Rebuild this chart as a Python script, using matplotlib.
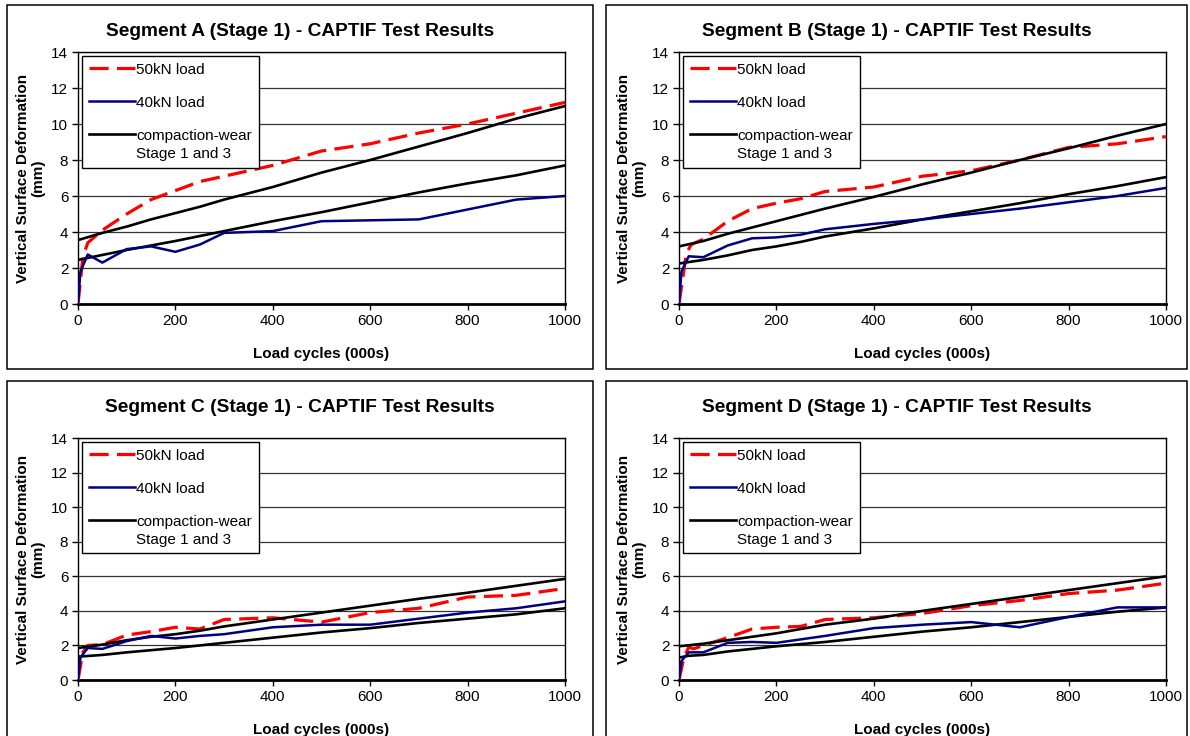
import matplotlib.pyplot as plt
from matplotlib.patches import Rectangle
from matplotlib.legend_handler import HandlerLine2D

plt.rcParams['font.family'] = ['Liberation Sans', 'DejaVu Sans']

# ---- data ----
seg_names = ['A', 'B', 'C', 'D']

# Segment A
a_50_x = [0, 10, 20, 50, 100, 150, 200, 250, 300, 400, 500, 600, 700, 800, 900, 1000]
a_50_y = [0, 2.6, 3.4, 4.1, 5.0, 5.8, 6.3, 6.8, 7.1, 7.7, 8.5, 8.9, 9.5, 10.0, 10.6, 11.2]
a_40_x = [0, 5, 20, 50, 100, 150, 200, 250, 300, 400, 500, 600, 700, 800, 900, 1000]
a_40_y = [0, 1.8, 2.75, 2.3, 3.05, 3.2, 2.9, 3.3, 3.95, 4.05, 4.6, 4.65, 4.7, 5.25, 5.8, 6.0]
a_cw1_x = [0, 50, 100, 150, 200, 250, 300, 400, 500, 600, 700, 800, 900, 1000]
a_cw1_y = [3.55, 3.95, 4.3, 4.7, 5.05, 5.4, 5.8, 6.5, 7.3, 8.0, 8.75, 9.5, 10.3, 11.0]
a_cw3_x = [0, 100, 200, 300, 400, 500, 600, 700, 800, 900, 1000]
a_cw3_y = [2.45, 3.0, 3.5, 4.05, 4.6, 5.1, 5.65, 6.2, 6.7, 7.15, 7.7]

# Segment B
b_50_x = [0, 15, 25, 50, 100, 150, 200, 250, 300, 400, 500, 600, 700, 800, 900, 1000]
b_50_y = [0, 2.8, 3.3, 3.6, 4.6, 5.3, 5.6, 5.85, 6.25, 6.5, 7.1, 7.4, 8.0, 8.7, 8.9, 9.3]
b_40_x = [0, 5, 20, 50, 100, 150, 200, 250, 300, 400, 500, 600, 700, 800, 900, 1000]
b_40_y = [0, 1.8, 2.65, 2.6, 3.25, 3.65, 3.7, 3.85, 4.15, 4.45, 4.7, 5.0, 5.3, 5.65, 6.0, 6.45]
b_cw1_x = [0, 50, 100, 150, 200, 250, 300, 400, 500, 600, 700, 800, 900, 1000]
b_cw1_y = [3.2, 3.5, 3.9, 4.25, 4.6, 4.95, 5.3, 5.95, 6.65, 7.3, 8.0, 8.65, 9.35, 10.0]
b_cw3_x = [0, 50, 100, 150, 200, 250, 300, 400, 500, 600, 700, 800, 900, 1000]
b_cw3_y = [2.25, 2.45, 2.7, 3.0, 3.2, 3.45, 3.75, 4.2, 4.7, 5.15, 5.6, 6.1, 6.55, 7.05]

# Segment C
c_50_x = [0, 10, 20, 50, 100, 150, 200, 250, 300, 400, 500, 600, 700, 800, 900, 1000]
c_50_y = [0, 1.6, 2.0, 2.05, 2.6, 2.8, 3.05, 2.95, 3.5, 3.6, 3.35, 3.9, 4.15, 4.8, 4.9, 5.3]
c_40_x = [0, 5, 20, 50, 100, 150, 200, 250, 300, 400, 500, 600, 700, 800, 900, 1000]
c_40_y = [0, 1.3, 1.85, 1.8, 2.25, 2.55, 2.4, 2.55, 2.65, 3.05, 3.2, 3.2, 3.55, 3.9, 4.15, 4.55]
c_cw1_x = [0, 50, 100, 150, 200, 250, 300, 400, 500, 600, 700, 800, 900, 1000]
c_cw1_y = [1.85, 2.05, 2.3, 2.5, 2.65, 2.85, 3.1, 3.5, 3.9, 4.3, 4.7, 5.05, 5.45, 5.85]
c_cw3_x = [0, 50, 100, 200, 250, 300, 400, 500, 600, 700, 800, 900, 1000]
c_cw3_y = [1.35, 1.45, 1.6, 1.85, 2.0, 2.15, 2.45, 2.75, 3.0, 3.3, 3.55, 3.8, 4.15]

# Segment D
d_50_x = [0, 10, 20, 30, 50, 100, 150, 200, 250, 300, 400, 500, 600, 700, 800, 900, 1000]
d_50_y = [0, 1.3, 1.9, 1.8, 2.0, 2.45, 2.95, 3.05, 3.1, 3.5, 3.6, 3.85, 4.3, 4.6, 5.0, 5.2, 5.6]
d_40_x = [0, 5, 20, 50, 100, 150, 200, 250, 300, 400, 500, 600, 650, 700, 800, 900, 1000]
d_40_y = [0, 1.1, 1.6, 1.6, 2.15, 2.2, 2.15, 2.35, 2.55, 3.0, 3.2, 3.35, 3.2, 3.05, 3.65, 4.2, 4.2]
d_cw1_x = [0, 50, 100, 150, 200, 250, 300, 400, 500, 600, 700, 800, 900, 1000]
d_cw1_y = [1.95, 2.1, 2.3, 2.5, 2.7, 2.95, 3.2, 3.55, 4.0, 4.4, 4.8, 5.2, 5.6, 6.0]
d_cw3_x = [0, 20, 50, 100, 200, 300, 400, 500, 600, 700, 800, 900, 1000]
d_cw3_y = [1.3, 1.4, 1.45, 1.65, 1.95, 2.2, 2.5, 2.8, 3.05, 3.35, 3.65, 3.95, 4.2]

series = {
    'A': (a_50_x, a_50_y, a_40_x, a_40_y, a_cw1_x, a_cw1_y, a_cw3_x, a_cw3_y),
    'B': (b_50_x, b_50_y, b_40_x, b_40_y, b_cw1_x, b_cw1_y, b_cw3_x, b_cw3_y),
    'C': (c_50_x, c_50_y, c_40_x, c_40_y, c_cw1_x, c_cw1_y, c_cw3_x, c_cw3_y),
    'D': (d_50_x, d_50_y, d_40_x, d_40_y, d_cw1_x, d_cw1_y, d_cw3_x, d_cw3_y),
}

x_ticks = [0, 200, 400, 600, 800, 1000]
y_ticks = [0, 2, 4, 6, 8, 10, 12, 14]
legend_labels = ['50kN load', '40kN load', 'compaction-wear\nStage 1 and 3']

W, H = 1190, 736
fig = plt.figure(figsize=(W / 100, H / 100), dpi=100)

# panel layout in pixels: (frame x0, frame y0, frame x1, frame y1, axes left, axes top, axes right, axes bottom)
layout = {
    'A': (7, 5, 593, 369, 78, 52, 565, 304),
    'B': (606, 5, 1187, 369, 679, 52, 1166, 304),
    'C': (7, 381, 593, 760, 78, 438, 565, 680),
    'D': (606, 381, 1187, 760, 679, 438, 1166, 680),
}


class TopLineHandler(HandlerLine2D):
    # Excel puts the legend line next to the first line of a wrapped label
    def create_artists(self, legend, orig_handle, xdescent, ydescent,
                       width, height, fontsize, trans):
        arts = super().create_artists(legend, orig_handle, xdescent, ydescent,
                                      width, height, fontsize, trans)
        for a in arts:
            yd = a.get_ydata()
            a.set_ydata([(height - ydescent) / 2 + 0.7 * fontsize] * len(yd))
        return arts


def px_rect(l, t, r, b):
    return [l / W, 1 - b / H, (r - l) / W, (b - t) / H]


for name in seg_names:
    fx0, fy0, fx1, fy1, al, at, ar, ab = layout[name]
    # outer chart frame
    fig.patches.append(Rectangle((fx0 / W, 1 - fy1 / H), (fx1 - fx0) / W, (fy1 - fy0) / H,
                                 transform=fig.transFigure, fill=False,
                                 edgecolor='black', linewidth=1.1))
    ax = fig.add_axes(px_rect(al, at, ar, ab))
    x50, y50, x40, y40, xc1, yc1, xc3, yc3 = series[name]

    for g in y_ticks[1:]:
        ax.axhline(g, color='#333333', linewidth=0.9, zorder=1)

    ax.plot(x50, y50, color='#ff0000', linestyle=(0, (6, 2.6)), linewidth=2.3, label=legend_labels[0], zorder=3)
    ax.plot(x40, y40, color='#000080', linewidth=1.8, label=legend_labels[1], zorder=4)
    cw, = ax.plot(xc1, yc1, color='black', linewidth=1.9, label=legend_labels[2], zorder=3)
    ax.plot(xc3, yc3, color='black', linewidth=1.9, zorder=3)

    ax.set_xlim(0, 1000)
    ax.set_ylim(0, 14)
    ax.set_xticks(x_ticks)
    ax.set_yticks(y_ticks)
    ax.tick_params(direction='out', length=4, width=1, labelsize=11, pad=3)
    for s in ['top', 'right', 'left']:
        ax.spines[s].set_linewidth(1.0)
    ax.spines['bottom'].set_linewidth(2.0)

    # chart title is centred on the whole frame, as in Excel
    fig.text((fx0 + fx1) / 2 / W, 1 - (fy0 + 27) / H,
             'Segment %s (Stage 1) - CAPTIF Test Results' % name,
             fontsize=13.8, fontweight='bold', ha='center', va='center')
    ax.set_xlabel('Load cycles (000s)', fontsize=11, fontweight='bold', labelpad=14)
    ax.set_ylabel('Vertical Surface Deformation\n(mm)', fontsize=11, fontweight='bold', labelpad=4)

    leg = ax.legend(loc='upper left', bbox_to_anchor=(0.008, 0.985), fontsize=11,
                    frameon=True, fancybox=False, framealpha=1, edgecolor='black',
                    handlelength=3.0, handletextpad=0.1, labelspacing=1.25,
                    borderpad=0.45, borderaxespad=0,
                    handler_map={cw: TopLineHandler()})
    leg.get_frame().set_linewidth(1.0)
    leg.get_texts()[2].set_linespacing(1.35)

fig.savefig('out.png', dpi=100)
